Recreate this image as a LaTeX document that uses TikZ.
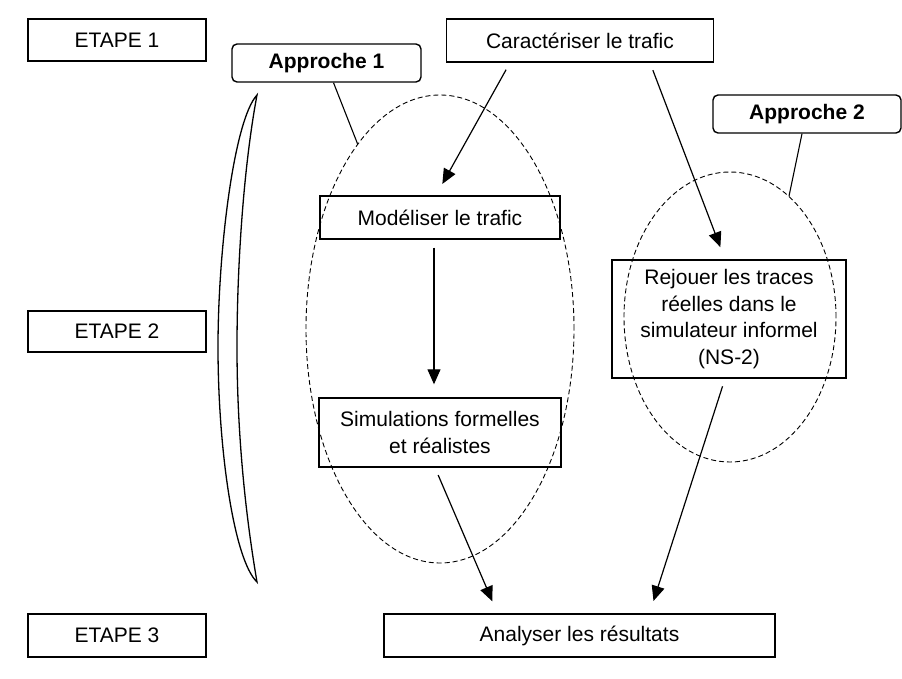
\documentclass[tikz,border=0pt]{standalone}
\usepackage{fontspec}
\setmainfont{Liberation Sans}
\usepackage{tikz}
\usetikzlibrary{arrows.meta, shapes.geometric, calc}

\begin{document}
\begin{tikzpicture}[
                x=1pt, y=-1pt,
                >={Triangle[length=15pt, width=13pt]},
                blk/.style  ={draw, line width=1.4pt, inner sep=0pt, align=center,
                        font=\fontsize{21}{26.5}\selectfont},
                rblk/.style ={blk, rounded corners=5pt, font=\fontsize{21}{26.5}\selectfont\bfseries},
                ell/.style  ={draw, ellipse, dash pattern=on 5pt off 3pt, line width=0.9pt,
                        inner sep=0pt},
                flow/.style ={->, line width=1.2pt, shorten <=8pt, shorten >=13pt},
                lead/.style ={line width=1.1pt}
            ]
            \useasboundingbox (0,0) rectangle (902,679);

            %% ---- stages on the left ------------------------------------------
            \node[blk, minimum width=178pt, minimum height=42pt] (etape1) at (117,40) {ETAPE 1};
            \node[blk, minimum width=178pt, minimum height=41pt] (etape2) at (117,331.5) {ETAPE 2};
            \node[blk, minimum width=178pt, minimum height=43pt] (etape3) at (117,635.5) {ETAPE 3};

            %% ---- brace-like crescent ------------------------------------------
            \draw[line width=1.3pt] (257,95) .. controls (234,120) and (218,250) .. (218,347)
                .. controls (218,450) and (234,560) .. (257,582)
                .. controls (243,500) and (237,420) .. (237,347)
                .. controls (237,270) and (243,170) .. (257,95) -- cycle;

            %% ---- the two approaches (dashed groups) ----------------------------
            \node[ell, minimum width=268pt, minimum height=468pt] (ell1) at (440,329) {};
            \node[ell, minimum width=212pt, minimum height=290pt] (ell2) at (730,317) {};

            %% ---- boxes ----------------------------------------------------------
            \node[rblk, minimum width=189pt, minimum height=38pt] (appr1) at (326.5,63) {Approche 1};
            \node[blk, minimum width=267pt, minimum height=43pt] (cara) at (580,40.5) {Caractériser le trafic};
            \node[rblk, minimum width=188pt, minimum height=38pt] (appr2) at (807,114) {Approche 2};
            \node[blk, minimum width=240pt, minimum height=43pt] (model) at (440,217.5) {Modéliser le trafic};
            \node[blk, minimum width=242pt, minimum height=69pt] (simul) at (440,432.5)
                {Simulations formelles\\et réalistes};
            \node[blk, minimum width=234pt, minimum height=118pt] (rejouer) at (729,319)
                {Rejouer les traces\\réelles dans le\\simulateur informel\\(NS-2)};
            \node[blk, minimum width=391pt, minimum height=43pt] (analyser) at (579.5,635.5)
                {Analyser les résultats};

            %% ---- callouts -------------------------------------------------------
            \draw[lead] ([xshift=7pt]appr1.south) -- (ell1.114);
            \draw[lead] ([xshift=-5pt]appr2.south) -- (ell2.64);

            %% ---- flow -----------------------------------------------------------
            \draw[flow] ([xshift=-70pt]cara.south) -- ([xshift=-4pt]model.north);
            \draw[flow] ([xshift=70pt]cara.south) -- ([xshift=-4pt]rejouer.north);
            \draw[flow] ([xshift=-6pt]model.south) -- ([xshift=-6pt]simul.north);
            \draw[flow] ([xshift=-5pt]simul.south) -- ([xshift=-82pt]analyser.north);
            \draw[flow] ([xshift=-4pt]rejouer.south) -- ([xshift=70pt]analyser.north);

        \end{tikzpicture}
\end{document}
